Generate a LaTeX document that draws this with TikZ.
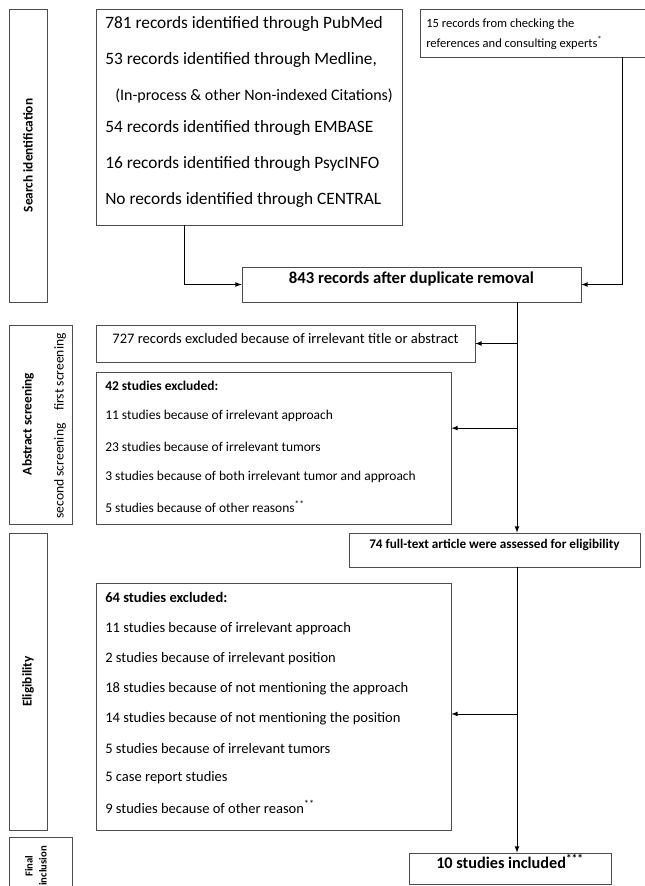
\documentclass[tikz,border=0pt]{standalone}
\usepackage{fontspec}
\setmainfont{Carlito}
\usetikzlibrary{arrows,fit,calc}

\begin{document}
\begin{tikzpicture}[x=0.75pt,y=-0.75pt,>=latex,
  box/.style={draw=black!70, line width=0.6pt, inner sep=0pt},
  txt/.style={anchor=west, inner sep=0pt},
  side/.style={rotate=90, inner sep=0pt, font=\fontsize{10}{12}\selectfont\bfseries},
  sidethin/.style={side, font=\fontsize{10.2}{12}\selectfont},
  link/.style={->, line width=0.6pt},
  recfont/.style={font=\fontsize{13}{15}\selectfont},
  notefont/.style={font=\fontsize{12}{14}\selectfont},
  expfont/.style={font=\fontsize{9.4}{11}\selectfont},
  listfont/.style={font=\fontsize{10.1}{12}\selectfont},
  listbig/.style={font=\fontsize{10.9}{13}\selectfont}]
  \clip (0,0) rectangle (645,886);
  \coordinate (srcdrop) at (184,0);
  \coordinate (expdrop) at (622,0);
  \coordinate (trunk) at (517,0);

  % stages on the left
  \node[box, fit={(9,9) (47,302)}] (sid) {};
  \node[side] (sidtxt) at (sid.center) {Search identification};
  \node[box, fit={(9,325) (72,524)}] (abs) {};
  \node[side] (abstxt) at (28,424) {Abstract screening};
  \node[sidethin] (firsttxt) at (60,372) {first screening};
  \node[sidethin] (secondtxt) at (60,471) {second screening};
  \node[box, fit={(9,533) (47,830)}] (elig) {};
  \node[side] (eligtxt) at (elig.center) {Eligibility};
  \node[box, fit={(9,837) (72,900)}] (fin) {};
  \node[side, align=center, font=\fontsize{8}{10.5}\selectfont\bfseries] (fintxt) at (36,866) {Final\\inclusion};

  % identification
  \node[box, fit={(96,9) (402,225)}] (src) {};
  \node[txt, recfont] (src1) at (105,24) {781 records identified through PubMed};
  \node[txt, recfont] (src2) at (105,60) {53 records identified through Medline,};
  \node[txt, notefont] (src3) at (115,96) {(In-process \& other Non-indexed Citations)};
  \node[txt, recfont] (src4) at (105,128) {54 records identified through EMBASE};
  \node[txt, recfont] (src5) at (105,164) {16 records identified through PsycINFO};
  \node[txt, recfont] (src6) at (105,200) {No records identified through CENTRAL};
  \node[box, fit={(420,9) (650,57)}] (exp) {};
  \node[txt, expfont] (exp1) at (426,24) {15 records from checking the};
  \node[txt, expfont] (exp2) at (426,43) {references and consulting experts\textsuperscript{*}};
  \node[box, fit={(242,267) (581,302)}, font=\fontsize{12.5}{15}\selectfont\bfseries] (dup) {843 records after duplicate removal};

  % screening
  \node[box, fit={(96,325) (475,362)}, listbig] (ex1) {727 records excluded because of irrelevant title or abstract};
  \node[box, fit={(96,372) (451,524)}] (ex2) {};
  \node[txt, listfont] (ex2a) at (105,386) {\bfseries 42 studies excluded:};
  \node[txt, listfont] (ex2b) at (105,416) {11 studies because of irrelevant approach};
  \node[txt, listfont] (ex2c) at (105,447) {23 studies because of irrelevant tumors};
  \node[txt, listfont] (ex2d) at (105,477) {3 studies because of both irrelevant tumor and approach};
  \node[txt, listfont] (ex2e) at (105,507) {5 studies because of other reasons\textsuperscript{**}};

  % eligibility
  \node[box, fit={(349,533) (640,567)}, font=\fontsize{9.9}{12}\selectfont\bfseries] (full) {74 full-text article were assessed for eligibility};
  \node[box, fit={(96,583) (451,830)}] (ex3) {};
  \node[txt, listbig] (ex3a) at (105,597) {\bfseries 64 studies excluded:};
  \node[txt, listbig] (ex3b) at (105,629) {11 studies because of irrelevant approach};
  \node[txt, listbig] (ex3c) at (105,659) {2 studies because of irrelevant position};
  \node[txt, listbig] (ex3d) at (105,689) {18 studies because of not mentioning the approach};
  \node[txt, listbig] (ex3e) at (105,719) {14 studies because of not mentioning the position};
  \node[txt, listbig] (ex3f) at (105,748) {5 studies because of irrelevant tumors};
  \node[txt, listbig] (ex3g) at (105,778) {5 case report studies};
  \node[txt, listbig] (ex3h) at (105,807) {9 studies because of other reason\textsuperscript{**}};
  \node[box, fit={(409,853) (611,884)}, font=\fontsize{12.2}{15}\selectfont\bfseries] (inc) {10 studies included\textsuperscript{***}};

  % connectors
  \coordinate (ex2in) at ($(ex2.north east)!0.37!(ex2.south east)$);
  \coordinate (ex3in) at ($(ex3.north east)!0.53!(ex3.south east)$);
  \draw[link] (src.south -| srcdrop) |- (dup.west);
  \draw[link] (exp.south -| expdrop) |- (dup.east);
  \draw[link] (dup.south -| trunk) -- (full.north -| trunk);
  \draw[link] (ex1.east -| trunk) -- (ex1.east);
  \draw[link] (ex2in -| trunk) -- (ex2in);
  \draw[link] (full.south -| trunk) -- (inc.north -| trunk);
  \draw[link] (ex3in -| trunk) -- (ex3in);
\end{tikzpicture}
\end{document}
